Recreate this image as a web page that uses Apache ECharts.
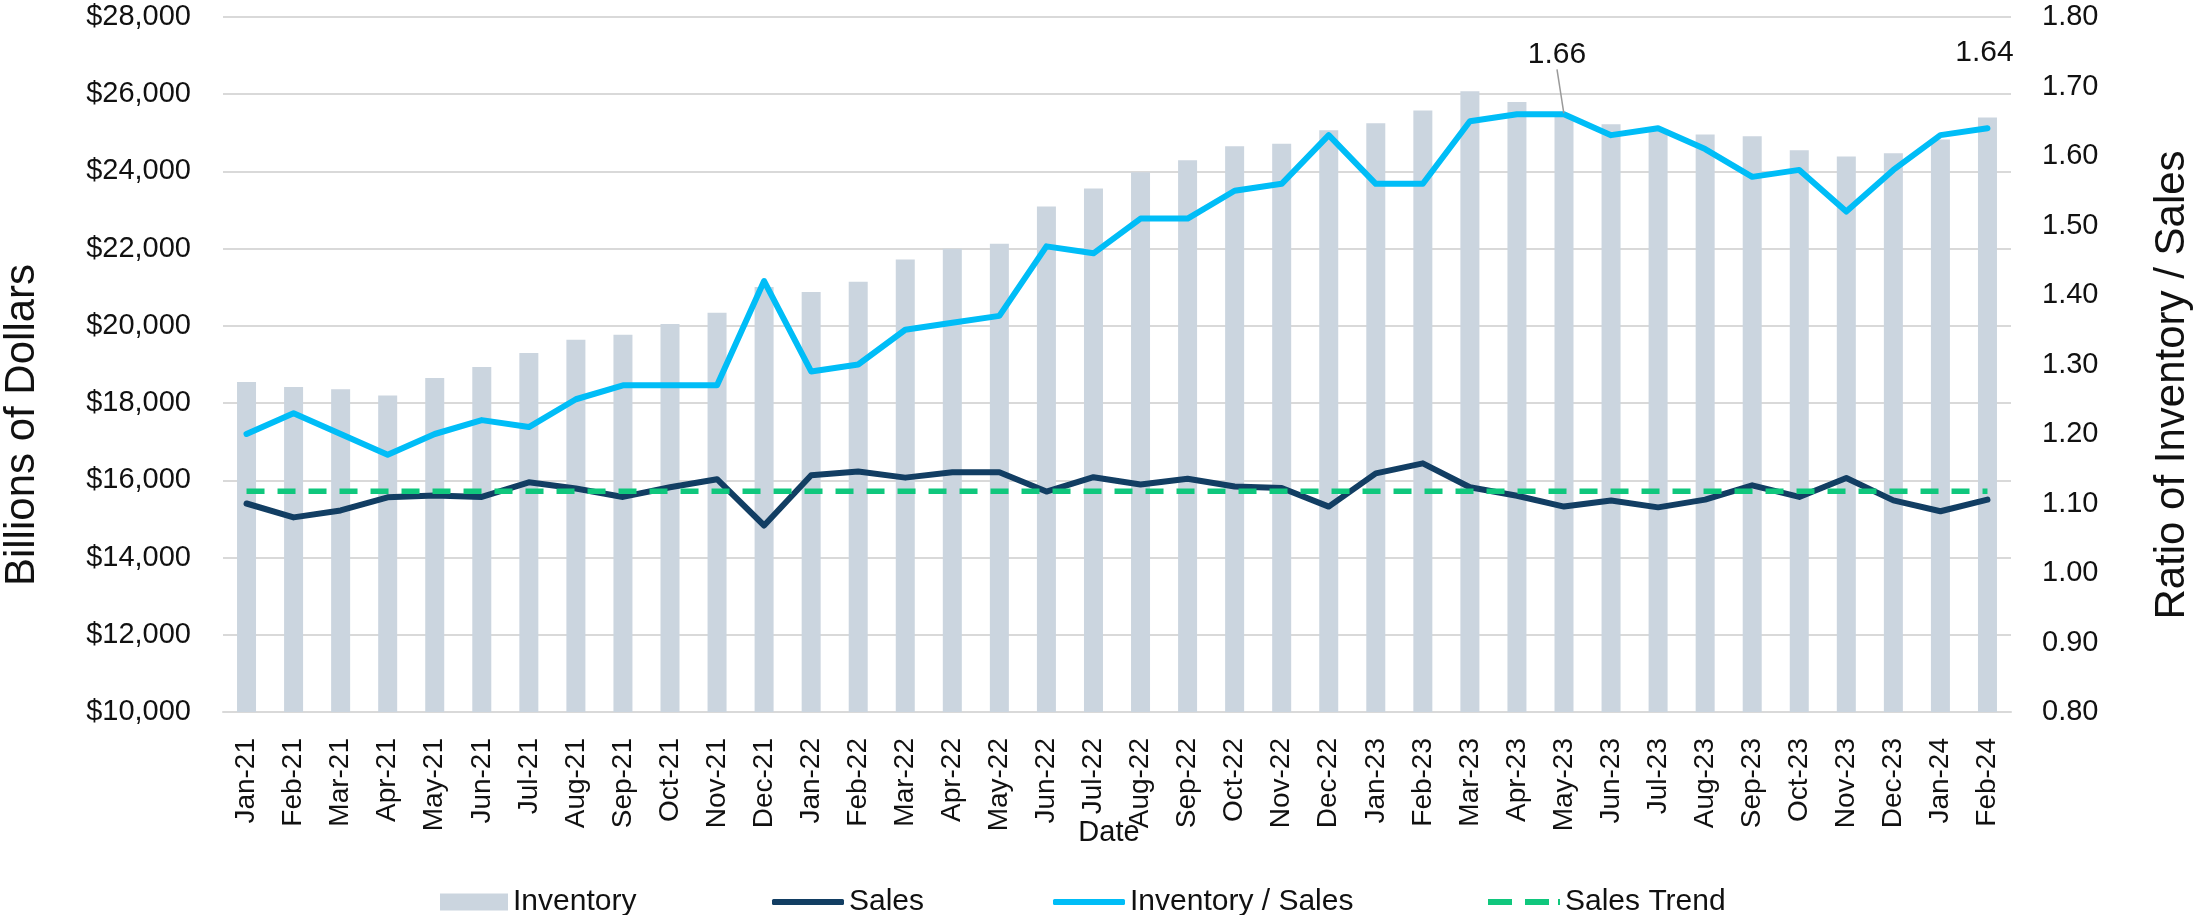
<!DOCTYPE html>
<html>
<head>
<meta charset="utf-8">
<script src="https://cdn.jsdelivr.net/npm/echarts@6/dist/echarts.min.js"></script>
<style>
  html, body { margin: 0; padding: 0; background: #fff; }
  #chart { width: 2195px; height: 915px; }
</style>
</head>
<body>
<div id="chart"></div>
<script>
const months = [
  "Jan-21", "Feb-21", "Mar-21", "Apr-21", "May-21", "Jun-21", "Jul-21", "Aug-21", "Sep-21", "Oct-21", "Nov-21", "Dec-21",
  "Jan-22", "Feb-22", "Mar-22", "Apr-22", "May-22", "Jun-22", "Jul-22", "Aug-22", "Sep-22", "Oct-22", "Nov-22", "Dec-22",
  "Jan-23", "Feb-23", "Mar-23", "Apr-23", "May-23", "Jun-23", "Jul-23", "Aug-23", "Sep-23", "Oct-23", "Nov-23", "Dec-23",
  "Jan-24", "Feb-24"
];

// billions of dollars
const inventory = [
  18545, 18415, 18360, 18200, 18650, 18935, 19300, 19640, 19770, 20050, 20340, 21010,
  20880, 21140, 21720, 22000, 22130, 23090, 23560, 23980, 24290, 24650, 24720, 25070,
  25250, 25580, 26080, 25800, 25430, 25220, 25100, 24955, 24910, 24550, 24390, 24470,
  24830, 25400
];

const sales = [
  15400, 15040, 15220, 15560, 15610, 15570, 15950, 15790, 15570, 15820, 16030, 14830,
  16130, 16230, 16070, 16210, 16210, 15710, 16080, 15890, 16040, 15840, 15800, 15320,
  16180, 16440, 15820, 15600, 15320, 15480, 15300, 15500, 15870, 15570, 16060, 15480,
  15200, 15500
];

// inventory / sales ratio (right axis)
const ratio = [
  1.20, 1.23, 1.20, 1.17, 1.20, 1.22, 1.21, 1.25, 1.27, 1.27, 1.27, 1.42,
  1.29, 1.30, 1.35, 1.36, 1.37, 1.47, 1.46, 1.51, 1.51, 1.55, 1.56, 1.63,
  1.56, 1.56, 1.65, 1.66, 1.66, 1.63, 1.64, 1.61, 1.57, 1.58, 1.52, 1.58,
  1.63, 1.64
];

const salesTrend = [
  15720, 15720, 15720, 15720, 15720, 15720, 15720, 15720, 15720, 15720, 15720, 15720,
  15720, 15720, 15720, 15720, 15720, 15720, 15720, 15720, 15720, 15720, 15720, 15720,
  15720, 15720, 15720, 15720, 15720, 15720, 15720, 15720, 15720, 15720, 15720, 15720,
  15720, 15720
];

const labelledPoints = [28, 37];

const FONT = "Liberation Sans";
const INK = "#111";
const GRID = "#D9D9D9";
const NAVY = "#123E63";
const CYAN = "#00BDF7";
const GREEN = "#10C77D";

const ratioData = ratio.map((v, i) => {
  if (!labelledPoints.includes(i)) return v;
  const item = { value: v, label: { show: true } };
  if (i === 28) item.labelLine = { show: true, lineStyle: { color: "#9a9a9a", width: 1.5 } };
  return item;
});

const chart = echarts.init(document.getElementById("chart"));

const legendBase = {
  top: 882,
  itemHeight: 6,
  itemWidth: 72,
  textStyle: { fontFamily: FONT, fontSize: 30, color: INK },
  selectedMode: false,
};

const option = {
  animation: false,
  grid: { left: 223, right: 184, top: 17, bottom: 203, containLabel: false },
  legend: [
    Object.assign({}, legendBase, {
      left: 435, itemWidth: 68, itemHeight: 17,
      data: [{ name: "Inventory", icon: "rect" }],
    }),
    Object.assign({}, legendBase, {
      left: 767,
      data: [{ name: "Sales", icon: "roundRect", itemStyle: { color: NAVY } }],
    }),
    Object.assign({}, legendBase, {
      left: 1048,
      data: [{ name: "Inventory / Sales", icon: "roundRect", itemStyle: { color: CYAN } }],
    }),
    Object.assign({}, legendBase, {
      left: 1483,
      data: [{
        name: "Sales Trend",
        icon: "path://M0,0H24V6H0Z M37,0H61V6H37Z M70,0H72V6H70Z",
        itemStyle: { color: GREEN },
      }],
    }),
  ],
  xAxis: {
    type: "category",
    data: months,
    boundaryGap: true,
    axisLine: { lineStyle: { color: GRID, width: 2 } },
    axisTick: { show: false },
    axisLabel: {
      rotate: 90,
      margin: 26,
      interval: 0,
      fontFamily: FONT,
      fontSize: 28,
      color: INK,
    },
  },
  yAxis: [
    {
      type: "value",
      min: 10000,
      max: 28000,
      interval: 2000,
      axisLine: { show: false },
      axisTick: { show: false },
      splitLine: { lineStyle: { color: GRID, width: 2 } },
      axisLabel: {
        margin: 32,
        fontFamily: FONT,
        fontSize: 29,
        color: INK,
        formatter: (v) => "$" + v.toLocaleString("en-US"),
      },
    },
    {
      type: "value",
      min: 0.8,
      max: 1.8,
      interval: 0.1,
      axisLine: { show: false },
      axisTick: { show: false },
      splitLine: { show: false },
      axisLabel: {
        margin: 31,
        fontFamily: FONT,
        fontSize: 29,
        color: INK,
        formatter: (v) => v.toFixed(2),
      },
    },
  ],
  graphic: [
    {
      type: "text",
      x: 22,
      y: 425,
      rotation: Math.PI / 2,
      style: {
        text: "Billions of Dollars",
        fontFamily: FONT,
        fontSize: 42,
        fill: INK,
        textAlign: "center",
        textVerticalAlign: "middle",
      },
    },
    {
      type: "text",
      x: 2172,
      y: 385,
      rotation: Math.PI / 2,
      style: {
        text: "Ratio of Inventory / Sales",
        fontFamily: FONT,
        fontSize: 42,
        fill: INK,
        textAlign: "center",
        textVerticalAlign: "middle",
      },
    },
    {
      type: "text",
      x: 1109,
      y: 833,
      style: {
        text: "Date",
        fontFamily: FONT,
        fontSize: 29,
        fill: INK,
        textAlign: "center",
        textVerticalAlign: "middle",
      },
    },
  ],
  series: [
    {
      name: "Inventory",
      type: "bar",
      data: inventory,
      barWidth: 19,
      itemStyle: { color: "#CBD5DF" },
      z: 1,
    },
    {
      name: "Sales",
      type: "line",
      data: sales,
      symbol: "none",
      lineStyle: { color: NAVY, width: 6, cap: "round", join: "round" },
      itemStyle: { color: NAVY },
      z: 3,
    },
    {
      name: "Inventory / Sales",
      type: "line",
      yAxisIndex: 1,
      data: ratioData,
      symbol: "circle",
      symbolSize: 2,
      showSymbol: true,
      lineStyle: { color: CYAN, width: 6, cap: "round", join: "round" },
      itemStyle: { color: CYAN },
      label: {
        show: false,
        position: "top",
        distance: 5,
        fontFamily: FONT,
        fontSize: 30,
        color: INK,
        formatter: (p) => p.value.toFixed(2),
      },
      labelLayout: (params) => {
        if (params.dataIndex === 28) return { dx: -7, dy: -39 };
        if (params.dataIndex === 37) return { dx: -3, dy: -54 };
        return {};
      },
      z: 4,
    },
    {
      name: "Sales Trend",
      type: "line",
      data: salesTrend,
      symbol: "none",
      lineStyle: { color: GREEN, width: 5.5, type: [18, 13] },
      itemStyle: { color: GREEN },
      z: 5,
    },
  ],
};

chart.setOption(option);
</script>
</body>
</html>
